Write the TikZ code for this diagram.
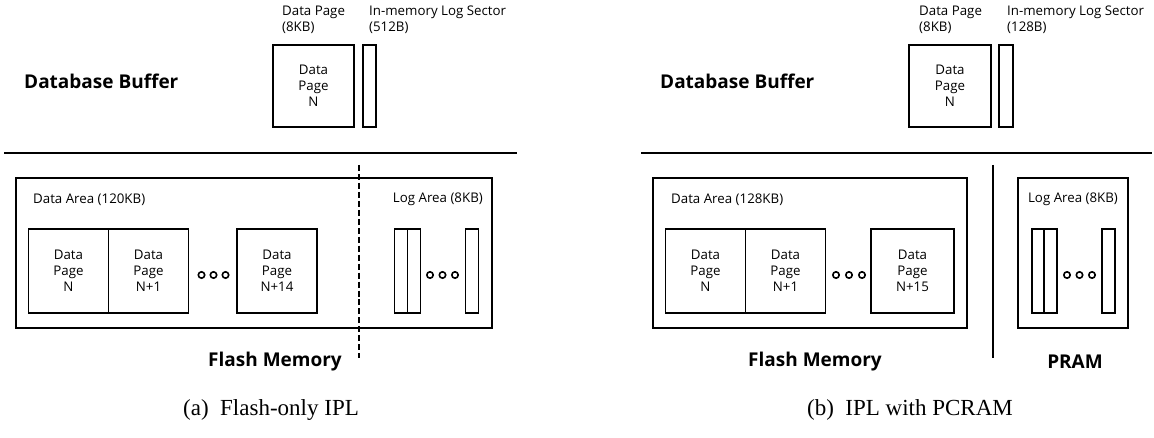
\documentclass[tikz,border=0pt]{standalone}
\usepackage{fontspec}
\setmainfont{Liberation Serif}
\newfontfamily\diagfont{Open Sans}
\usetikzlibrary{positioning}

\begin{document}
\begin{tikzpicture}[
x=1bp,y=-1bp,
small/.style={
  font=\diagfont\fontsize{13.3bp}{16bp}\selectfont,
  inner sep=0pt
  },
title/.style={
  font=\diagfont\bfseries\fontsize{19bp}{22bp}\selectfont,
  inner sep=0pt
  },
caption/.style={
  font=\fontsize{23bp}{26bp}\selectfont,
  inner sep=0pt
  },
page/.style={
  small,
  draw,
  line width=1.8pt,
  align=center,
  minimum width=80bp,
  minimum height=84bp
  },
sector/.style={
  draw,
  line width=1.6pt,
  inner sep=0pt,
  minimum width=13bp,
  minimum height=84bp
  },
area/.style={
  draw,
  line width=1.4pt
  },
dot/.style={
  draw,
  line width=1.6pt
  }
]
\useasboundingbox (0,0) rectangle (1154,438);

% (a) flash-only
\node[title,anchor=west] (bufa) at (24,81) {Database Buffer};
\node[page,minimum width=81bp,minimum height=82bp] (bpagea) at (313.5,86) {Data\\Page\\N};
\node[sector,minimum height=82bp] (bseca) at (369.5,86) {};
\node[small,anchor=west,align=left] (lpagea) at (282,20) {Data Page\\(8KB)};
\node[small,anchor=west,align=left] (lseca) at (369,20) {In-memory Log Sector\\(512B)};
\coordinate (hla) at (4,153);
\coordinate (hra) at (517,153);
\draw[line width=1.6pt] (hla) -- (hra);

\draw[area] (16,178) rectangle (492,328);
\node[small,anchor=west] (dareaa) at (33,200) {Data Area (120KB)};
\node[small,anchor=east] (lareaa) at (483,199) {Log Area (8KB)};
\node[page] (pa1) at (68.5,271) {Data\\Page\\N};
\node[page,right=-1.8pt of pa1] (pa2) {Data\\Page\\N+1};
\node[page] (pa3) at (277,271) {Data\\Page\\N+14};
\node[sector] (sa1) at (401,271) {};
\node[sector,right=-1.6pt of sa1] (sa2) {};
\node[sector] (sa3) at (472,271) {};
\foreach \dx in {201.5,213.5,225.5,430,442.5,455}
  \draw[dot] (\dx,275) circle (3.2);
\coordinate (dta) at (359,165);
\coordinate (dba) at (359,358);
\draw[line width=1.3pt,dash pattern=on 6pt off 3pt] (dta) -- (dba);
\node[title] (flasha) at (275,362) {Flash Memory};
\node[caption] (capa) at (271,410) {(a)\enspace Flash-only IPL};

% (b) with PCRAM
\node[title,anchor=west] (bufb) at (660,81) {Database Buffer};
\node[page,minimum width=82bp,minimum height=82bp] (bpageb) at (950,86) {Data\\Page\\N};
\node[sector,minimum height=82bp,minimum width=14bp] (bsecb) at (1006,86) {};
\node[small,anchor=west,align=left] (lpageb) at (919,20) {Data Page\\(8KB)};
\node[small,anchor=west,align=left] (lsecb) at (1007,20) {In-memory Log Sector\\(128B)};
\coordinate (hlb) at (641,153);
\coordinate (hrb) at (1152,153);
\draw[line width=1.6pt] (hlb) -- (hrb);

\draw[area] (653,178) rectangle (967,328);
\node[small,anchor=west] (dareab) at (671,200) {Data Area (128KB)};
\node[page] (pb1) at (705.5,271) {Data\\Page\\N};
\node[page,right=-1.8pt of pb1] (pb2) {Data\\Page\\N+1};
\node[page,minimum width=83bp] (pb3) at (912.5,271) {Data\\Page\\N+15};
\draw[area] (1018,178) rectangle (1128,328);
\node[small] (lareab) at (1073,199) {Log Area (8KB)};
\node[sector,minimum width=12bp] (sb1) at (1038,271) {};
\node[sector,right=-1.6pt of sb1] (sb2) {};
\node[sector] (sb3) at (1108.5,271) {};
\foreach \dx in {836,849,862,1067,1079.5,1092}
  \draw[dot] (\dx,275) circle (3.2);
\coordinate (vtb) at (993,165);
\coordinate (vbb) at (993,358);
\draw[line width=1.4pt] (vtb) -- (vbb);
\node[title] (flashb) at (815,362) {Flash Memory};
\node[title] (pramb) at (1075,362) {PRAM};
\node[caption] (capb) at (910,410) {(b)\enspace IPL with PCRAM};
\end{tikzpicture}
\end{document}
